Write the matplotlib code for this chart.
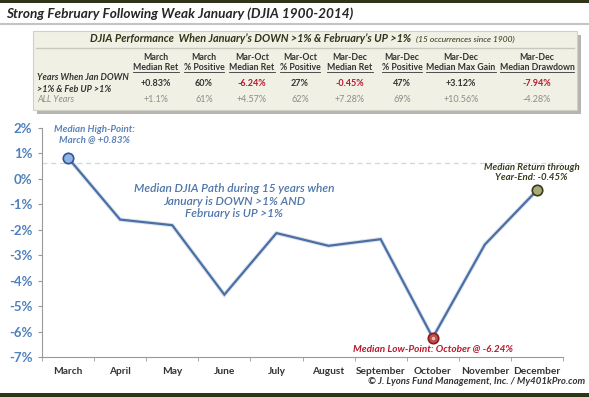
import matplotlib
matplotlib.use('Agg')
import matplotlib.pyplot as plt
from matplotlib.patches import Rectangle
from matplotlib.lines import Line2D

plt.rcParams['font.family'] = ['Lato', 'DejaVu Sans']

W, H = 589, 397

# data
months = ['March', 'April', 'May', 'June', 'July', 'August', 'September',
          'October', 'November', 'December']
median_path = [0.83, -1.6, -1.82, -4.55, -2.13, -2.63, -2.37, -6.24, -2.58, -0.45]
yticks = [2, 1, 0, -1, -2, -3, -4, -5, -6, -7]
ref_level = 0.63

col_heads = [('March', 'Median Ret'), ('March', '% Positive'), ('Mar-Oct', 'Median Ret'),
             ('Mar-Oct', '% Positive'), ('Mar-Dec', 'Median Ret'), ('Mar-Dec', '% Positive'),
             ('Mar-Dec', 'Median Max Gain'), ('Mar-Dec', 'Median Drawdown')]
row_sel = ['+0.83%', '60%', '-6.24%', '27%', '-0.45%', '47%', '+3.12%', '-7.94%']
row_all = ['+1.1%', '61%', '+4.57%', '62%', '+7.28%', '69%', '+10.56%', '-4.28%']
col_x = [156, 204, 252, 300, 350, 402, 461, 537]


def fx(x):
    return x / W


def fy(y):
    return 1 - y / H


fig = plt.figure(figsize=(W / 100, H / 100), dpi=100)
fig.patch.set_facecolor('white')

olive = '#2f3519'
blue = '#4f81bd'
line_blue = '#4a6fa5'
red = '#b8182e'

# header / footer bars
fig.add_artist(Rectangle((0, fy(3)), 1, 3 / H, transform=fig.transFigure,
                         facecolor=olive, edgecolor='none'))
fig.add_artist(Line2D([0, 1], [fy(24), fy(24)], transform=fig.transFigure,
                      color='#c4c4c4', lw=1.5))
fig.add_artist(Rectangle((0, 0), 1, 4 / H, transform=fig.transFigure,
                         facecolor=olive, edgecolor='none'))
fig.text(fx(6), fy(14), 'Strong February Following Weak January (DJIA 1900-2014)',
         fontsize=9.8, fontweight='bold', style='italic', color='#262626',
         ha='left', va='center')

# table box with shadow
bx0, by0, bx1, by1 = 33, 31, 577, 110
fig.add_artist(Rectangle((fx(bx0 + 4), fy(by1 + 4)), (bx1 - bx0) / W, (by1 - by0) / H,
                         transform=fig.transFigure, facecolor='#b5b5b0', edgecolor='none'))
fig.add_artist(Rectangle((fx(bx0), fy(by1)), (bx1 - bx0) / W, (by1 - by0) / H,
                         transform=fig.transFigure, facecolor='#f1f0e5',
                         edgecolor='#d0d0c8', lw=0.8))
fig.add_artist(Line2D([fx(bx0 + 3), fx(bx1 - 3)], [fy(48), fy(48)],
                      transform=fig.transFigure, color='#c8c8bc', lw=1))
tbl_title = fig.text(fx(90), fy(39),
                     "DJIA Performance  When January\u2019s DOWN >1% & February\u2019s UP >1%",
                     fontsize=7.8, fontweight='bold', style='italic', color=olive,
                     ha='left', va='center')

sub_texts = []
for (h1, h2), cx, v1, v2 in zip(col_heads, col_x, row_sel, row_all):
    fig.text(fx(cx), fy(57), h1, fontsize=6.3, fontweight='bold', color='#333333',
             ha='center', va='center')
    sub_texts.append(fig.text(fx(cx), fy(67), h2, fontsize=6.3, fontweight='bold',
                              color='#333333', ha='center', va='center'))
    c1 = red if v1.startswith('-') else '#333333'
    fig.text(fx(cx), fy(84), v1, fontsize=6.5, fontweight='bold', color=c1,
             ha='center', va='center')
    fig.text(fx(cx), fy(100), v2, fontsize=6.5, color='#8c8c8c',
             ha='center', va='center')

# underline headers, place the small note after the table title
fig.canvas.draw()
rend = fig.canvas.get_renderer()
for t in sub_texts:
    bb = t.get_window_extent(rend)
    fig.add_artist(Line2D([bb.x0 / W, bb.x1 / W], [fy(72), fy(72)],
                          transform=fig.transFigure, color='#333333', lw=0.6))
tb = tbl_title.get_window_extent(rend)
fig.text((tb.x1 + 5) / W, fy(39.5), "(15 occurrences since 1900)", fontsize=6,
         style='italic', color=olive, ha='left', va='center')

fig.text(fx(37), fy(78), 'Years When Jan DOWN', fontsize=6.5, fontweight='bold',
         style='italic', color='#333333', ha='left', va='center')
fig.text(fx(37), fy(90), '>1% & Feb UP >1%', fontsize=6.5, fontweight='bold',
         style='italic', color='#333333', ha='left', va='center')
fig.text(fx(37), fy(100), 'ALL Years', fontsize=6.5, style='italic',
         color='#8c8c8c', ha='left', va='center')

# chart
ax = fig.add_axes([fx(42), fy(357), (563 - 42) / W, (357 - 128) / H])
x = list(range(len(months)))
ax.axhline(ref_level, color='#cfd6e0', lw=0.9, ls=(0, (4, 3)), zorder=1)
ax.plot(x, median_path, color='#dbe2ec', lw=3, zorder=2, solid_joinstyle='miter')
ax.plot(x, median_path, color=line_blue, lw=1.6, zorder=3, solid_joinstyle='miter')
ax.plot(x[0], median_path[0], 'o', ms=7.5, mfc='#8fb4e3', mec='#2f5597', mew=1.2, zorder=4)
ax.plot(x[7], median_path[7], 'o', ms=7.5, mfc='#c0504d', mec='#8b1a1a', mew=1.2, zorder=4)
ax.plot(x[7], median_path[7], 'o', ms=2.5, mfc='#f0c0c0', mec='none', zorder=5)
ax.plot(x[9], median_path[9], 'o', ms=7.5, mfc='#a9a97a', mec='#3a3a1e', mew=1.2, zorder=4)

ax.set_xlim(-0.5, len(months) - 0.5)
ax.set_ylim(min(yticks), max(yticks))
ax.set_yticks(yticks)
ax.set_yticklabels([f'{v}%' for v in yticks])
ax.set_xticks(x)
ax.set_xticklabels(months)
ax.set_xticks([i - 0.5 for i in range(len(months) + 1)], minor=True)
ax.tick_params(axis='x', which='major', length=0, pad=7, labelsize=7.3,
               labelcolor='#333333')
ax.tick_params(axis='x', which='minor', length=3, color='#999999')
ax.tick_params(axis='y', length=3, color='#999999', labelsize=9.5, labelcolor=blue, pad=4)
for lab in ax.get_xticklabels() + ax.get_yticklabels():
    lab.set_fontweight('bold')
for s in ['top', 'right']:
    ax.spines[s].set_visible(False)
ax.spines['left'].set_color('#999999')
ax.spines['bottom'].set_color('#999999')
ax.patch.set_alpha(0)

ax.text(0.5, 1.75, 'Median High-Point:\nMarch @ +0.83%', fontsize=7, fontweight='bold',
        style='italic', color='#5b82b8', ha='center', va='center', linespacing=1.15)
ax.text(3.19, -0.88, 'Median DJIA Path during 15 years when\nJanuary is DOWN >1% AND\nFebruary is UP >1%',
        fontsize=8.6, fontweight='semibold', style='italic', color='#4f75aa',
        ha='center', va='center', linespacing=1.15)
ax.text(7.0, -6.65, 'Median Low-Point: October @ -6.24%', fontsize=7.2, fontweight='bold',
        style='italic', color=red, ha='center', va='center')
ax.text(8.9, 0.25, 'Median Return through\nYear-End: -0.45%', fontsize=6.9, fontweight='bold',
        style='italic', color='#3b3b1f', ha='center', va='center', linespacing=1.15)

fig.text(fx(585), fy(382), '\u00a9 J. Lyons Fund Management, Inc. / My401kPro.com',
         fontsize=6.9, fontweight='bold', style='italic', color='#333333',
         ha='right', va='center')

fig.savefig('out.png', dpi=100)
